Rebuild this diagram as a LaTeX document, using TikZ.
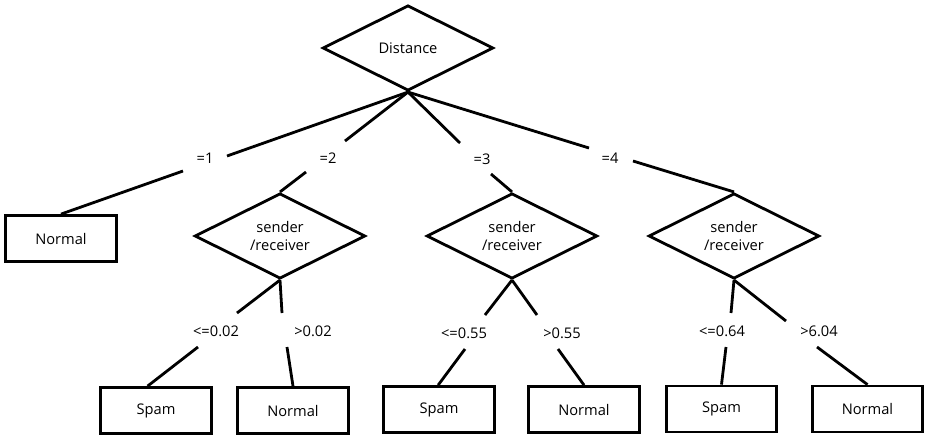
\documentclass[tikz,border=0pt]{standalone}
\usepackage{fontspec}
\setmainfont{Open Sans}
\usetikzlibrary{shapes.geometric}
\begin{document}
\begin{tikzpicture}[x=0.75pt,y=-0.75pt,
  every node/.style={font=\fontsize{11}{14}\selectfont},
  dec/.style={draw, line width=2.1pt, diamond, inner sep=0pt, aspect=2,
    minimum width=128pt, minimum height=64pt, align=center},
  leaf/.style={draw, line width=2.1pt, rectangle, minimum width=83pt, minimum height=34.5pt, inner sep=0pt},
  lab/.style={inner sep=0pt},
  conn/.style={line width=2.1pt}]
\useasboundingbox (0,0) rectangle (925,436);
% decision nodes
\node[dec] (d0) at (408,48) {Distance};
\node[dec] (d2) at (280,236) {sender\\/receiver};
\node[dec] (d3) at (512,236) {sender\\/receiver};
\node[dec] (d4) at (734,236) {sender\\/receiver};
% leaves
\node[leaf] (n1) at (61,238.5) {Normal};
\node[leaf] (s2) at (156,410.5) {Spam};
\node[leaf] (n2) at (293,410.5) {Normal};
\node[leaf] (s3) at (439,409.5) {Spam};
\node[leaf] (n3) at (584,409.5) {Normal};
\node[leaf] (s4) at (721.5,409) {Spam};
\node[leaf] (n4) at (867.5,409) {Normal};
% labels
\node[lab] (l1) at (205,158) {=1};
\node[lab] (l2) at (328,158) {=2};
\node[lab] (l3) at (482,159) {=3};
\node[lab] (l4) at (610,158) {=4};
\node[lab] (l5) at (216,331) {<=0.02};
\node[lab] (l6) at (313,331) {>0.02};
\node[lab] (l7) at (464,333) {<=0.55};
\node[lab] (l8) at (562,333) {>0.55};
\node[lab] (l9) at (722,331) {<=0.64};
\node[lab] (l10) at (819,331) {>6.04};
% gap end points
\coordinate (a1) at (227,156); \coordinate (b1) at (183,171);
\coordinate (a2) at (345,141); \coordinate (b2) at (306,172);
\coordinate (a3) at (460,143); \coordinate (b3) at (491,174);
\coordinate (a4) at (589,148); \coordinate (b4) at (633,161);
\coordinate (a5) at (237,313); \coordinate (b5) at (198,347);
\coordinate (a6) at (282,313); \coordinate (b6) at (287,347);
\coordinate (a7) at (485,315); \coordinate (b7) at (465,349);
\coordinate (a8) at (537,315); \coordinate (b8) at (558,349);
\coordinate (a9) at (731,313); \coordinate (b9) at (726,347);
\coordinate (a10) at (786,321); \coordinate (b10) at (817,347);
% connectors
\draw[conn] (d0.south) -- (a1); \draw[conn] (b1) -- (n1.north);
\draw[conn] (d0.south) -- (a2); \draw[conn] (b2) -- (d2.north);
\draw[conn] (d0.south) -- (a3); \draw[conn] (b3) -- (d3.north);
\draw[conn] (d0.south) -- (a4); \draw[conn] (b4) -- (d4.north);
\draw[conn] (d2.south) -- (a5); \draw[conn] (b5) -- (s2.109);
\draw[conn] (d2.south) -- (a6); \draw[conn] (b6) -- (n2.north);
\draw[conn] (d3.south) -- (a7); \draw[conn] (b7) -- (s3.92);
\draw[conn] (d3.south) -- (a8); \draw[conn] (b8) -- (n3.north);
\draw[conn] (d4.south) -- (a9); \draw[conn] (b9) -- (s4.north);
\draw[conn] (d4.south) -- (a10); \draw[conn] (b10) -- (n4.north);
\end{tikzpicture}
\end{document}
